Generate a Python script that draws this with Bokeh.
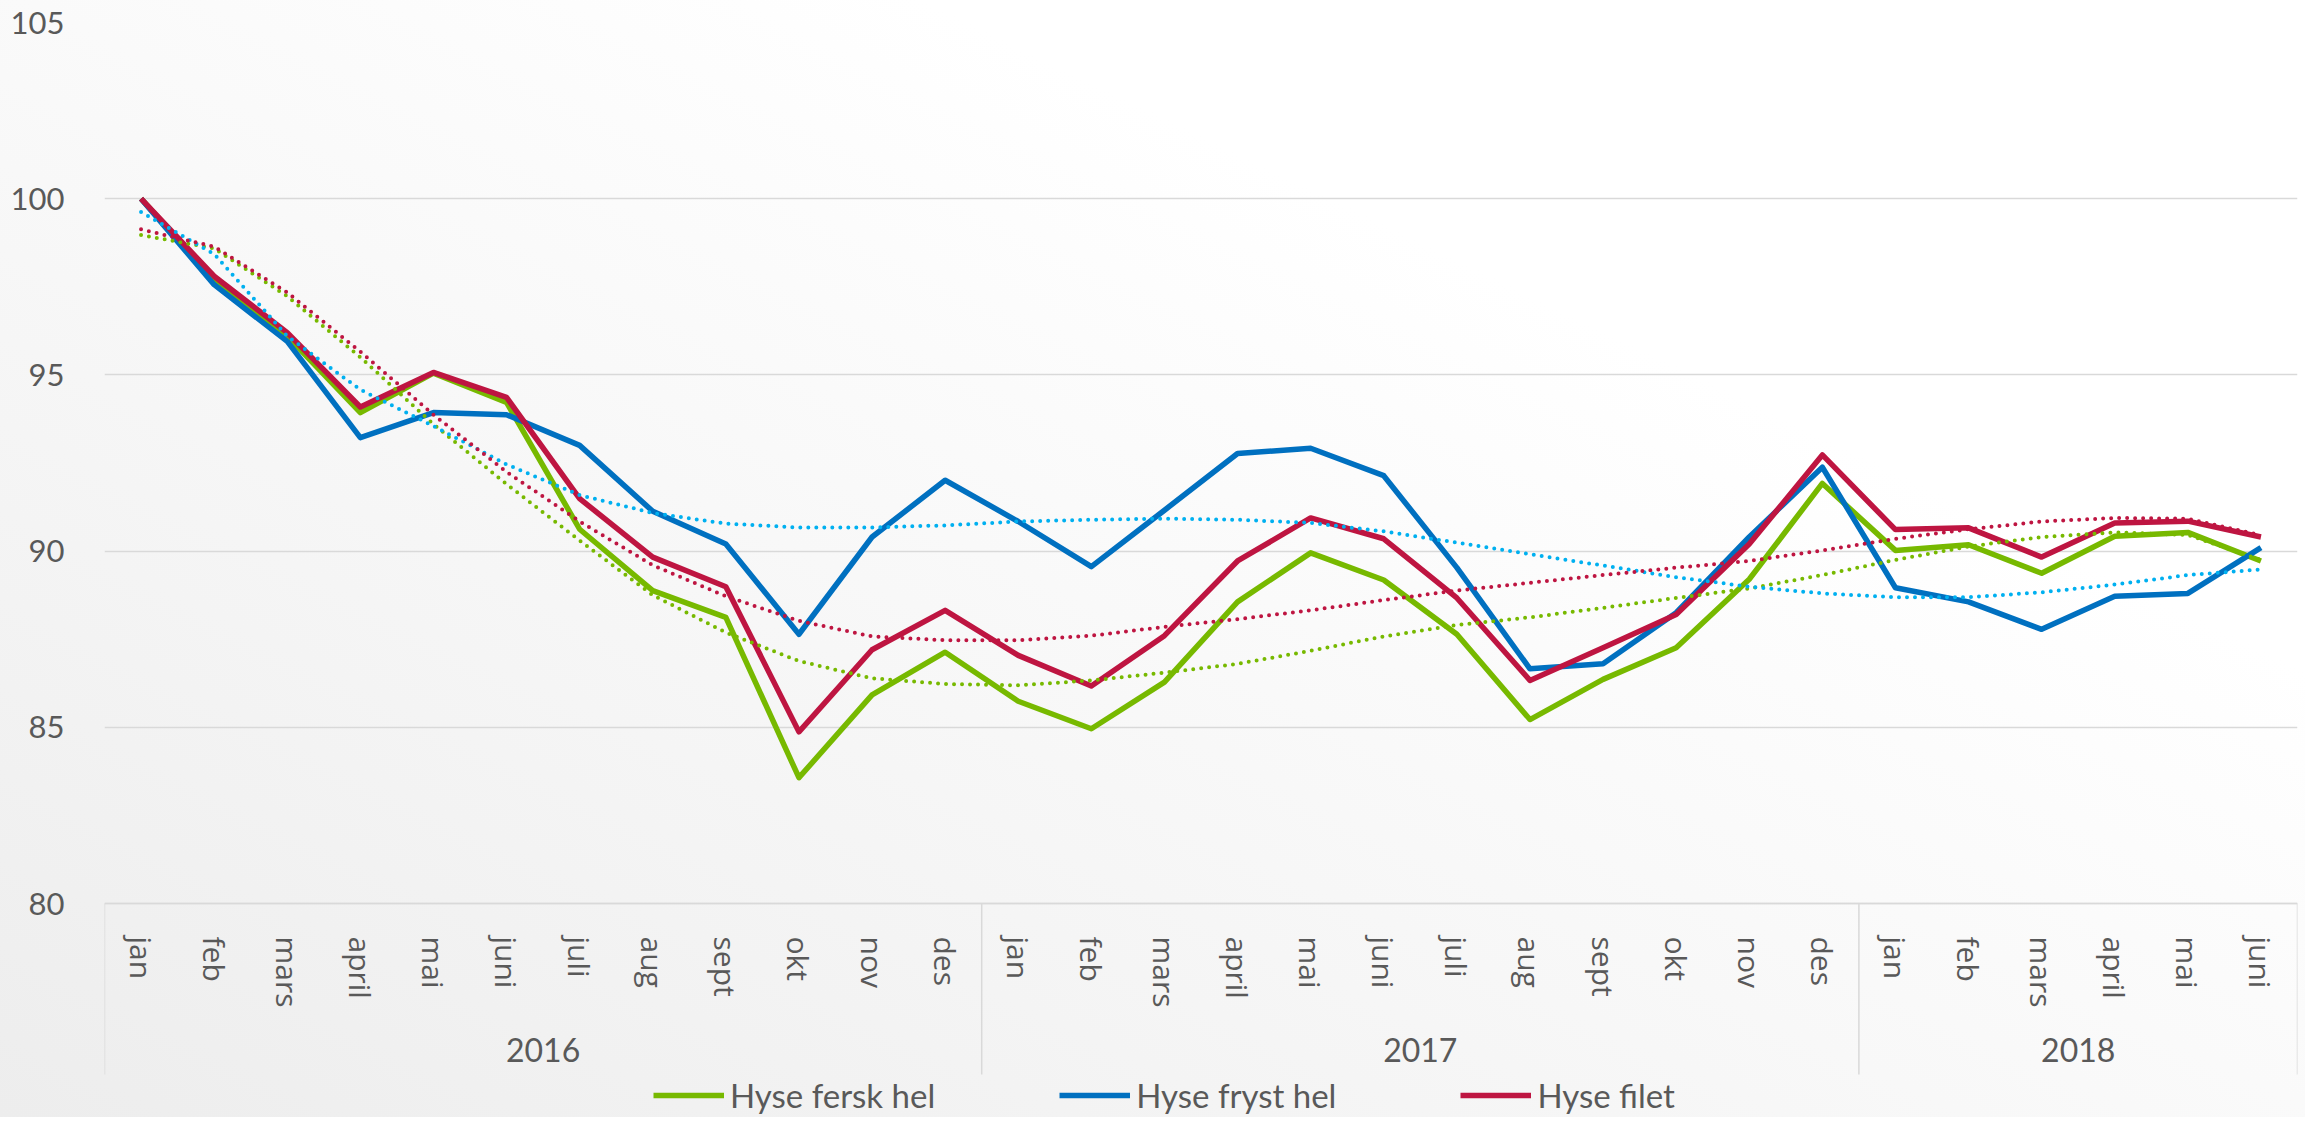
from bokeh.plotting import figure
from bokeh.models import FactorRange, Range1d, Legend, LegendItem, FixedTicker
from bokeh.embed import file_html
from bokeh.resources import INLINE

years = ["2016"] * 12 + ["2017"] * 12 + ["2018"] * 6
months = ["jan", "feb", "mars", "april", "mai", "juni", "juli", "aug", "sept", "okt", "nov", "des",
          "jan", "feb", "mars", "april", "mai", "juni", "juli", "aug", "sept", "okt", "nov", "des",
          "jan", "feb", "mars", "april", "mai", "juni"]

fersk_hel = [100, 97.7, 96.1, 93.93, 95.05, 94.22, 90.62, 88.88, 88.12, 83.57, 85.92, 87.13,
             85.74, 84.96, 86.28, 88.56, 89.95, 89.18, 87.64, 85.22, 86.36, 87.26, 89.2, 91.92,
             90.02, 90.18, 89.37, 90.42, 90.53, 89.72]
fryst_hel = [100, 97.56, 95.95, 93.22, 93.93, 93.87, 93.0, 91.13, 90.2, 87.64, 90.4, 92.01,
             90.84, 89.56, 91.16, 92.77, 92.92, 92.14, 89.53, 86.66, 86.8, 88.25, 90.4, 92.38,
             88.96, 88.56, 87.78, 88.72, 88.8, 90.1]
filet = [100, 97.8, 96.2, 94.09, 95.07, 94.36, 91.49, 89.83, 88.99, 84.87, 87.2, 88.32,
         87.04, 86.17, 87.6, 89.72, 90.94, 90.35, 88.67, 86.33, 87.26, 88.2, 90.2, 92.73,
         90.61, 90.66, 89.83, 90.8, 90.85, 90.4]

trend_fersk = [98.97, 98.59, 97.23, 95.5, 93.6, 91.9, 90.3, 88.75, 87.69, 86.88, 86.39, 86.23,
               86.19, 86.33, 86.55, 86.8, 87.17, 87.58, 87.9, 88.12, 88.39, 88.67, 88.94, 89.32,
               89.75, 90.13, 90.4, 90.53, 90.46, 89.75]
trend_fryst = [99.62, 98.43, 96.1, 94.58, 93.55, 92.46, 91.59, 91.08, 90.78, 90.67, 90.67, 90.73,
               90.84, 90.89, 90.92, 90.89, 90.8, 90.56, 90.24, 89.91, 89.59, 89.26, 88.99, 88.8,
               88.69, 88.69, 88.83, 89.05, 89.32, 89.48]
trend_filet = [99.13, 98.64, 97.34, 95.66, 93.87, 92.25, 90.84, 89.6, 88.72, 88.02, 87.58, 87.47,
               87.47, 87.6, 87.85, 88.07, 88.32, 88.61, 88.88, 89.1, 89.32, 89.53, 89.72, 90.02,
               90.35, 90.62, 90.84, 90.94, 90.92, 90.45]

y_ticks = [80, 85, 90, 95, 100, 105]
series_names = ["Hyse fersk hel", "Hyse fryst hel", "Hyse filet"]

factors = list(zip(years, months))

GREEN = "#77B900"
BLUE = "#0070C0"
RED = "#BE1541"
LBLUE = "#00B0F0"
TXT = "#595959"
GRID = "#D9D9D9"

# layout (pixels)
W, H = 2305, 1117
TOP, LEFT, RIGHT = 22, 104, 8
AXIS_PX = 903          # page y of value 80 (x axis)
SEP_PX = 1074          # bottom of the category-axis separators
px_per_unit = (AXIS_PX - TOP) / (y_ticks[-1] - y_ticks[0])
y_bottom = y_ticks[0] - (H - AXIS_PX) / px_per_unit
y_sep = y_ticks[0] - (SEP_PX - AXIS_PX) / px_per_unit

p = figure(width=W, height=H,
           x_range=FactorRange(*factors, factor_padding=0, group_padding=0, range_padding=0),
           y_range=Range1d(y_bottom, y_ticks[-1]),
           output_backend="svg", toolbar_location=None,
           min_border_left=LEFT, min_border_right=RIGHT, min_border_top=TOP, min_border_bottom=0)

p.background_fill_color = None
p.border_fill_color = None
p.outline_line_color = None
p.styles = {"background-image": "linear-gradient(to top right, #EDEDED 0%, #F6F6F6 35%, #FFFFFF 70%)"}

p.xgrid.grid_line_color = None
p.ygrid.grid_line_color = GRID
p.ygrid.grid_line_width = 1.5

p.yaxis.ticker = FixedTicker(ticks=y_ticks)
p.yaxis.axis_line_color = None
p.yaxis.major_tick_line_color = None
p.yaxis.minor_tick_line_color = None
p.yaxis.major_label_text_font = "Lato"
p.yaxis.major_label_text_font_size = "31px"
p.yaxis.major_label_text_color = TXT
p.yaxis.major_label_standoff = 34

xa = p.xaxis[0]
xa.fixed_location = y_ticks[0]
xa.axis_line_color = GRID
xa.axis_line_width = 1.5
xa.major_tick_line_color = None
xa.minor_tick_line_color = None
xa.major_label_orientation = "vertical"
xa.major_label_text_font = "Open Sans"
xa.major_label_text_font_size = "30px"
xa.major_label_text_color = TXT
xa.major_label_standoff = 27
xa.group_text_font = "Lato"
xa.group_text_font_size = "32px"
xa.group_text_font_style = "normal"
xa.group_text_color = TXT
xa.separator_line_color = None

# separators of the year groups (left edge, year boundaries, right edge)
sep_x = [(*factors[0], -0.5)]
for i in range(1, len(factors)):
    if years[i] != years[i - 1]:
        sep_x.append((*factors[i - 1], 0.5))
sep_x.append((*factors[-1], 0.5))
p.segment(x0=sep_x, y0=[y_ticks[0]] * len(sep_x), x1=sep_x, y1=[y_sep] * len(sep_x),
          line_color=GRID, line_width=1.5)

x = factors
r1 = p.line(x, fersk_hel, line_color=GREEN, line_width=5.5, line_join="round")
r2 = p.line(x, fryst_hel, line_color=BLUE, line_width=5.5, line_join="round")
r3 = p.line(x, filet, line_color=RED, line_width=5.5, line_join="round")

for t, c in [(trend_fersk, GREEN), (trend_fryst, LBLUE), (trend_filet, RED)]:
    p.line(x, t, line_color=c, line_width=4, line_dash="0 8", line_cap="round")

legend = Legend(items=[LegendItem(label=series_names[0], renderers=[r1]),
                       LegendItem(label=series_names[1], renderers=[r2]),
                       LegendItem(label=series_names[2], renderers=[r3])],
                orientation="horizontal", location=(549, 2),
                glyph_width=71, glyph_height=20, label_standoff=6, spacing=124,
                padding=0, margin=0, border_line_color=None, background_fill_alpha=0,
                label_text_font="Lato", label_text_font_size="33px", label_text_color=TXT)
p.add_layout(legend)

open("out.html", "w").write(file_html(p, INLINE))
